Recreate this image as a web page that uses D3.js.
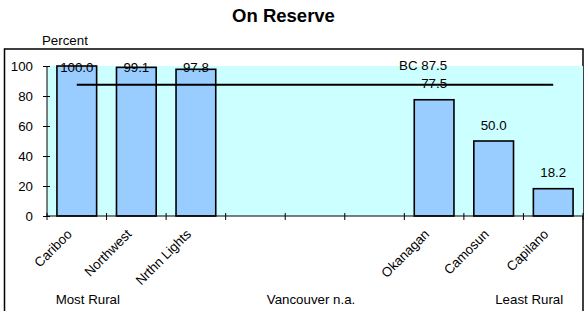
<!DOCTYPE html>
<html><head><meta charset="utf-8">
<script src="https://cdn.jsdelivr.net/npm/d3@7"></script>
<style>body{margin:0;background:#fff}svg{display:block}text{font-family:"Liberation Sans",Arial,sans-serif;fill:#000}</style>
</head><body>
<script>
const categories = ["Cariboo","Northwest","Nrthn Lights","gap1","Vancouver","gap2","Okanagan","Camosun","Capilano"];
const tickLabels = ["Cariboo","Northwest","Nrthn Lights","","","","Okanagan","Camosun","Capilano"];
const values = [100.0, 99.1, 97.8, null, null, null, 77.5, 50.0, 18.2];
const bcValue = 87.5;
const yTicks = [0,20,40,60,80,100];
const titleText = "On Reserve";

const W=584,H=311;
const svg=d3.select("body").append("svg").attr("width",W).attr("height",H);
const x=d3.scaleBand().domain(categories).range([47,583]).paddingInner(1/3).paddingOuter(1/6);
const y=d3.scaleLinear().domain([0,100]).range([216,66]);

// outer border
svg.append("rect").attr("x",4.5).attr("y",49).attr("width",578.5).attr("height",300)
  .attr("fill","none").attr("stroke","#000").attr("stroke-width",1.5);
// plot background
svg.append("rect").attr("x",47).attr("y",y(100)).attr("width",583-47).attr("height",y(0)-y(100)).attr("fill","#CCFFFF");

// title
svg.append("text").attr("x",283.5).attr("y",22).attr("text-anchor","middle").attr("font-weight","bold").attr("font-size",18.5).text(titleText);
svg.append("text").attr("x",42).attr("y",45).attr("font-size",13.3).text("Percent");

// bars
const data=categories.map((c,i)=>({c,v:values[i],lab:tickLabels[i]}));
svg.selectAll(".bar").data(data.filter(d=>d.v!=null)).join("rect")
  .attr("x",d=>x(d.c)).attr("y",d=>y(d.v)).attr("width",x.bandwidth()).attr("height",d=>y(0)-y(d.v))
  .attr("fill","#99CCFF").attr("stroke","#000").attr("stroke-width",1.6);

// BC line
const first=categories[0], last=categories[categories.length-1];
svg.append("line").attr("x1",x(first)+x.bandwidth()/2).attr("x2",x(last)+x.bandwidth()/2)
  .attr("y1",y(bcValue)).attr("y2",y(bcValue)).attr("stroke","#000").attr("stroke-width",1.8);

// data labels
svg.selectAll(".dl").data(data.filter(d=>d.v!=null)).join("text")
  .attr("x",d=>x(d.c)+x.bandwidth()/2).attr("y",d=>Math.max(y(d.v)-16,67)+4.6)
  .attr("text-anchor","middle").attr("font-size",13.3).text(d=>d.v.toFixed(1));
svg.append("text").attr("x",x("Okanagan")+x.bandwidth()/2-11).attr("y",y(bcValue)-14.5)
  .attr("text-anchor","middle").attr("font-size",13.3).text("BC "+bcValue.toFixed(1));

// y axis
const ya=svg.append("g").attr("transform","translate(47,0)")
  .call(d3.axisLeft(y).tickValues(yTicks).tickSize(4).tickPadding(10).tickFormat(d3.format("d")));
ya.select(".domain").attr("stroke","#000").attr("d","M0,"+y(100)+"V"+y(0));
ya.selectAll(".tick line").attr("x1",3).attr("stroke","#000");
ya.selectAll(".tick text").attr("font-size",13.3).attr("font-family","Liberation Sans, Arial, sans-serif").attr("fill","#000");

// x axis
svg.append("line").attr("x1",47).attr("x2",583).attr("y1",y(0)).attr("y2",y(0)).attr("stroke","#000");
const gap=(x.step()-x.bandwidth())/2;
const bounds=categories.map(c=>x(c)-gap).concat([x(last)+x.bandwidth()+gap]);
svg.selectAll(".xt").data(bounds).join("line").attr("x1",d=>d).attr("x2",d=>d)
  .attr("y1",y(0)-3).attr("y2",y(0)+4).attr("stroke","#000");
svg.selectAll(".xl").data(data.filter(d=>d.lab)).join("text")
  .attr("transform",d=>`translate(${x(d.c)+x.bandwidth()/2-4},${y(0)+19}) rotate(-45)`)
  .attr("text-anchor","end").attr("font-size",13.3).text(d=>d.lab);

// bottom annotations
svg.append("text").attr("x",x("Cariboo")+x.bandwidth()/2+11).attr("y",304).attr("text-anchor","middle").attr("font-size",13.3).text("Most Rural");
svg.append("text").attr("x",x("Vancouver")+x.bandwidth()/2-4).attr("y",304).attr("text-anchor","middle").attr("font-size",13.3).text("Vancouver n.a.");
svg.append("text").attr("x",x("Capilano")+x.bandwidth()/2-24).attr("y",304).attr("text-anchor","middle").attr("font-size",13.3).text("Least Rural");
</script>
</body></html>
